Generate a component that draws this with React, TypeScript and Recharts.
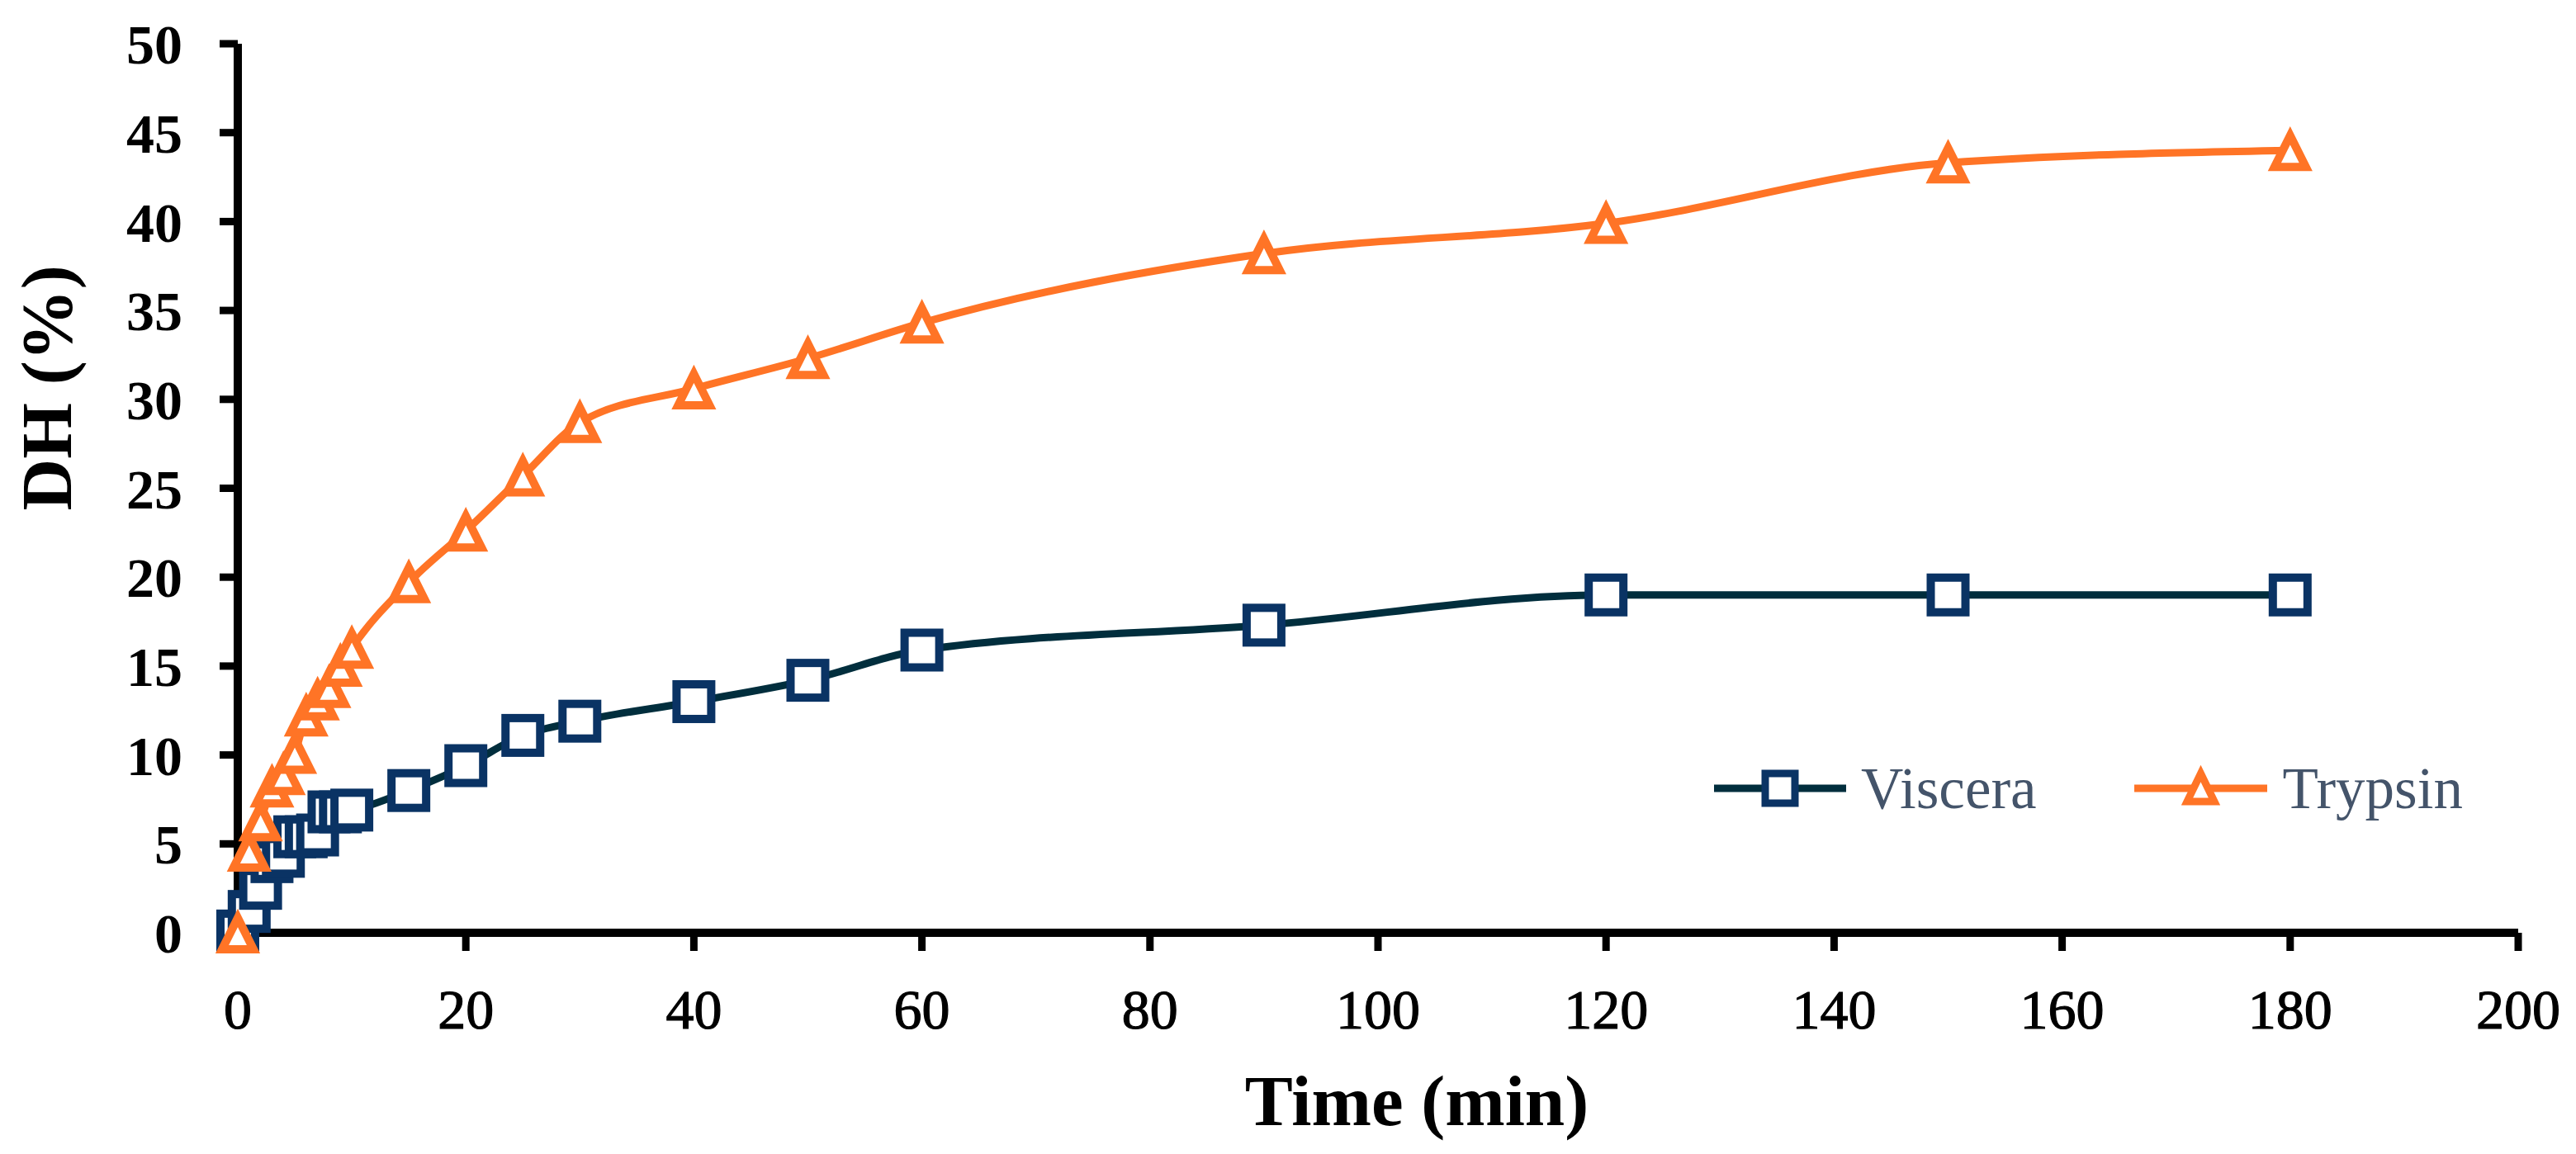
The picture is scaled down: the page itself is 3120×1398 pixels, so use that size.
import React from 'react';
import { LineChart, Line, XAxis, YAxis, Legend, Label } from 'recharts';

const times = [0, 1, 2, 3, 4, 5, 6, 7, 8, 9, 10, 15, 20, 25, 30, 40, 50, 60, 90, 120, 150, 180];
const viscera = [0.1, 1.2, 2.5, 4.0, 4.3, 5.4, 5.4, 5.5, 6.8, 6.8, 6.9, 8.0, 9.4, 11.1, 11.9, 13.0, 14.2, 15.9, 17.3, 19.0, 19.0, 19.0];
const trypsin = [0, 4.6, 6.3, 8.2, 8.9, 10.1, 12.2, 13.1, 13.8, 15.0, 16.0, 19.7, 22.6, 25.7, 28.7, 30.6, 32.3, 34.3, 38.2, 39.9, 43.3, 44.0];
const xTicks = [0, 20, 40, 60, 80, 100, 120, 140, 160, 180, 200];
const yTicks = [0, 5, 10, 15, 20, 25, 30, 35, 40, 45, 50];

const data = times.map((t, i) => ({ t, viscera: viscera[i], trypsin: trypsin[i] }));

const NAVY = '#0A3364';
const NAVY_LINE = '#012E3D';
const ORANGE = '#FF7426';
const LEGEND_TEXT = '#44546A';
const FONT = '"Liberation Serif", "DejaVu Serif", serif';

const SquareDot = (props: any) => {
  const { cx, cy, index } = props;
  if (cx == null || cy == null) return null;
  const s = 42;
  return (
    <rect key={`sq-${index}`} x={cx - s / 2} y={cy - s / 2} width={s} height={s}
      fill="#fff" stroke={NAVY} strokeWidth={10} />
  );
};

const TriangleDot = (props: any) => {
  const { cx, cy, index } = props;
  if (cx == null || cy == null) return null;
  const d = `M${cx},${cy - 18} L${cx + 19},${cy + 20} L${cx - 19},${cy + 20} Z`;
  return (
    <path key={`tr-${index}`} d={d} fill="#fff" stroke={ORANGE} strokeWidth={10} strokeLinejoin="miter" />
  );
};

const LegendContent = () => (
  <div style={{ display: 'flex', alignItems: 'center', fontFamily: FONT, fontSize: 71, color: LEGEND_TEXT, whiteSpace: 'nowrap' }}>
    <svg width={160} height={60} style={{ display: 'block' }}>
      <line x1={0} y1={30} x2={160} y2={30} stroke={NAVY_LINE} strokeWidth={9} />
      <rect x={62} y={12} width={36} height={36} fill="#fff" stroke={NAVY} strokeWidth={9} />
    </svg>
    <span style={{ marginLeft: 18, lineHeight: '60px' }}>Viscera</span>
    <svg width={161} height={60} style={{ display: 'block', marginLeft: 118 }}>
      <line x1={0} y1={30} x2={161} y2={30} stroke={ORANGE} strokeWidth={9} />
      <path d="M80.5,12 L97,46 L64,46 Z" fill="#fff" stroke={ORANGE} strokeWidth={9} />
    </svg>
    <span style={{ marginLeft: 19, lineHeight: '60px' }}>Trypsin</span>
  </div>
);

const XTitle = (props: any) => {
  const vb = props.viewBox || {};
  const x = vb.x + vb.width / 2 + 47;
  return (
    <text x={x} y={1363} textAnchor="middle" fontFamily={FONT} fontWeight="bold" fontSize={87} fill="#000" stroke="none">
      Time (min)
    </text>
  );
};

const YTitle = () => (
  <text x={0} y={0} transform="translate(86,470) rotate(-90)" textAnchor="middle" fontFamily={FONT} fontWeight="bold" fontSize={87} fill="#000" stroke="none">
    DH (%)
  </text>
);

export default function App() {
  return (
    <div style={{ position: 'absolute', left: 0, top: 0, width: 3120, height: 1398, background: '#fff' }}>
      <LineChart width={3120} height={1398} data={data} margin={{ top: 53, right: 70, bottom: 118, left: 0 }}>
        <XAxis
          dataKey="t"
          type="number"
          domain={[0, 200]}
          ticks={xTicks}
          height={150}
          stroke="#000"
          strokeWidth={10}
          axisLine={{ stroke: '#000', strokeWidth: 10 }}
          tickLine={{ stroke: '#000', strokeWidth: 9 }}
          tickSize={22}
          tickMargin={46}
          tick={{ fill: '#000', fontFamily: FONT, fontSize: 68, stroke: '#000', strokeWidth: 1.2 }}
          interval={0}
        >
          <Label content={<XTitle />} />
        </XAxis>
        <YAxis
          type="number"
          domain={[0, 50]}
          ticks={yTicks}
          width={288}
          stroke="#000"
          strokeWidth={10}
          axisLine={{ stroke: '#000', strokeWidth: 10 }}
          tickLine={{ stroke: '#000', strokeWidth: 9 }}
          tickSize={22}
          tickMargin={45}
          tick={{ fill: '#000', fontFamily: FONT, fontSize: 68, fontWeight: 'bold', stroke: 'none' }}
          interval={0}
        >
          <Label content={<YTitle />} />
        </YAxis>
        <Legend
          layout="horizontal"
          align="center"
          verticalAlign="middle"
          content={<LegendContent />}
          wrapperStyle={{ left: 2076, top: 925, width: 1000, height: 60 }}
        />
        <Line
          type="monotone"
          dataKey="viscera"
          name="Viscera"
          stroke={NAVY_LINE}
          strokeWidth={9}
          dot={SquareDot}
          activeDot={false}
          isAnimationActive={false}
        />
        <Line
          type="monotone"
          dataKey="trypsin"
          name="Trypsin"
          stroke={ORANGE}
          strokeWidth={9}
          dot={TriangleDot}
          activeDot={false}
          isAnimationActive={false}
        />
      </LineChart>
    </div>
  );
}
